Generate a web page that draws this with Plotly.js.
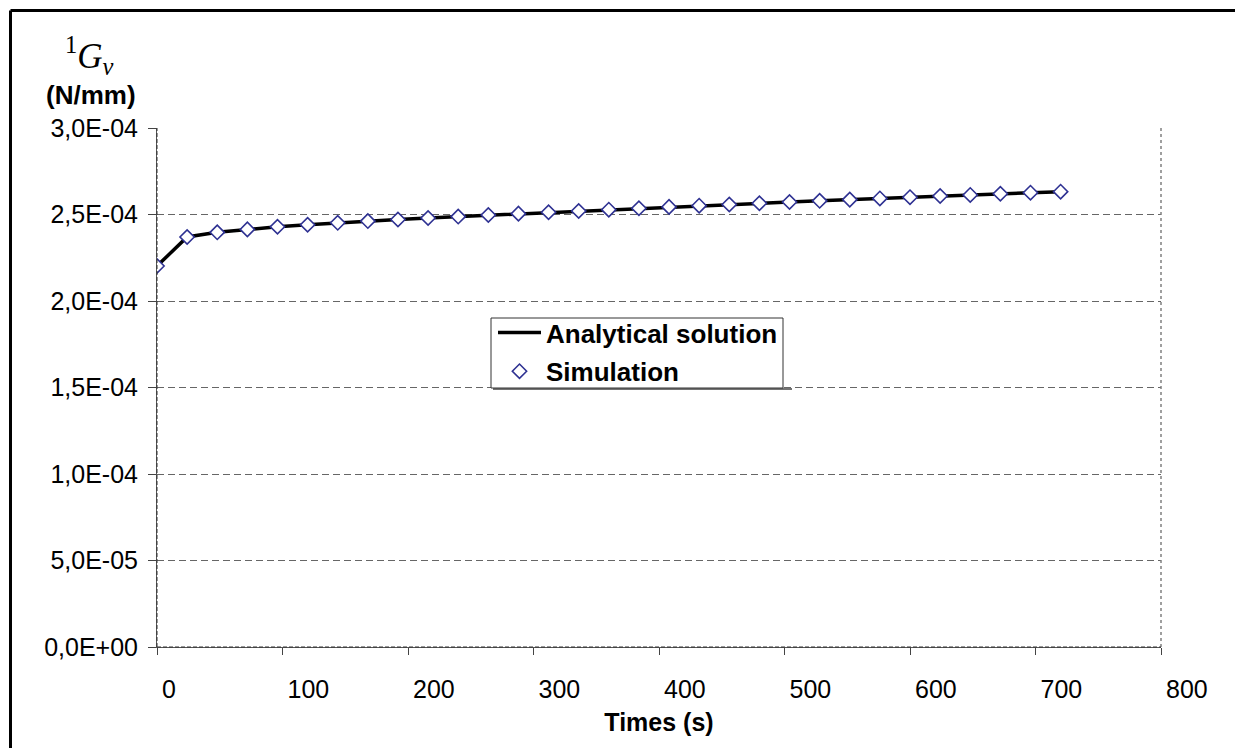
<!DOCTYPE html>
<html>
<head>
<meta charset="utf-8">
<script src="https://cdn.plot.ly/plotly-3.0.1.min.js"></script>
<style>
  html, body { margin: 0; padding: 0; background: #fff; }
  #chart { width: 1235px; height: 748px; }
</style>
</head>
<body>
<div id="chart"></div>
<script>
// ---- data ----
const times = [0, 24, 48, 72, 96, 120, 144, 168, 192, 216, 240, 264, 288, 312, 336, 360,
               384, 408, 432, 456, 480, 504, 528, 552, 576, 600, 624, 648, 672, 696, 720];
const analytical = [2.202e-4, 2.370e-4, 2.397e-4, 2.414e-4, 2.429e-4, 2.441e-4, 2.452e-4, 2.462e-4,
                    2.471e-4, 2.480e-4, 2.488e-4, 2.497e-4, 2.505e-4, 2.513e-4, 2.520e-4, 2.528e-4,
                    2.536e-4, 2.544e-4, 2.551e-4, 2.558e-4, 2.565e-4, 2.572e-4, 2.579e-4, 2.586e-4,
                    2.593e-4, 2.600e-4, 2.607e-4, 2.613e-4, 2.620e-4, 2.626e-4, 2.632e-4];
const simulation = [2.202e-4, 2.370e-4, 2.397e-4, 2.414e-4, 2.429e-4, 2.441e-4, 2.452e-4, 2.462e-4,
                    2.471e-4, 2.480e-4, 2.488e-4, 2.497e-4, 2.505e-4, 2.513e-4, 2.520e-4, 2.528e-4,
                    2.536e-4, 2.544e-4, 2.551e-4, 2.558e-4, 2.565e-4, 2.572e-4, 2.579e-4, 2.586e-4,
                    2.593e-4, 2.600e-4, 2.607e-4, 2.613e-4, 2.620e-4, 2.626e-4, 2.632e-4];
const yTickVals = [0, 5e-5, 1e-4, 1.5e-4, 2e-4, 2.5e-4, 3e-4];
const yTickText = ["0,0E+00", "5,0E-05", "1,0E-04", "1,5E-04", "2,0E-04", "2,5E-04", "3,0E-04"];
const xTickVals = [0, 100, 200, 300, 400, 500, 600, 700, 800];
const xTickText = ["0", "100", "200", "300", "400", "500", "600", "700", "800"];
const seriesNames = ["Analytical solution", "Simulation"];
const xTitle = "Times (s)";
const yTitleSymbol = "<sup>1</sup><i>G</i><sub><i>v</i></sub>";
const yTitleUnit = "(N/mm)";

const FONT = "Liberation Sans, Arial, sans-serif";

const traces = [
  {
    x: times, y: analytical, name: seriesNames[0], type: "scatter", mode: "lines",
    legendgroup: "a",
    line: { color: "#000000", width: 3.5 }
  },
  {
    x: times, y: simulation, name: seriesNames[1], type: "scatter", mode: "markers",
    legendgroup: "b",
    marker: { symbol: "diamond", size: 11, color: "#ffffff",
              line: { color: "#2E3192", width: 1.6 } }
  }
];

const W = 1004, H = 519, L = 157, T = 128;
const px = v => (v - L) / W;          // pixel x -> paper x
const py = v => (T + H - v) / H;      // pixel y -> paper y

const layout = {
  width: 1235, height: 748,
  margin: { l: 157, r: 74, t: 128, b: 101, pad: 0 },
  paper_bgcolor: "#ffffff", plot_bgcolor: "#ffffff",
  font: { family: FONT, size: 25, color: "#000000" },
  showlegend: true,
  legend: {
    x: px(493), y: py(309), xanchor: "left", yanchor: "top",
    bgcolor: "rgba(0,0,0,0)", borderwidth: 0,
    itemwidth: 43,
    font: { family: FONT, size: 26, weight: "bold", color: "#000000" },
    tracegroupgap: 2
  },
  xaxis: {
    range: [0, 800], tickvals: xTickVals, ticktext: xTickText,
    showgrid: false, zeroline: false,
    showline: true, linecolor: "#555555", linewidth: 1,
    ticks: "outside", ticklen: 7, tickcolor: "#444444", tickwidth: 1,
    ticklabelposition: "outside right", ticklabelshift: 4, ticklabelstandoff: 20,
    tickfont: { family: FONT, size: 25, color: "#000000" },
    title: { text: xTitle, font: { family: FONT, size: 25, weight: "bold" }, standoff: 11 },
    fixedrange: true
  },
  yaxis: {
    range: [0, 3e-4], tickvals: yTickVals, ticktext: yTickText,
    showgrid: true, gridcolor: "#666666", gridwidth: 1, griddash: "7px,4px",
    zeroline: false,
    showline: true, linecolor: "#555555", linewidth: 1,
    ticks: "outside", ticklen: 8, tickcolor: "#444444", tickwidth: 1,
    ticklabelstandoff: 5,
    tickfont: { family: FONT, size: 25, color: "#000000" },
    fixedrange: true
  },
  annotations: [
    { xref: "paper", yref: "paper", x: px(63), y: py(55), xanchor: "left", yanchor: "middle",
      text: yTitleSymbol, showarrow: false,
      font: { family: "Liberation Serif, Times New Roman, serif", size: 35, color: "#000" } },
    { xref: "paper", yref: "paper", x: px(91), y: py(95), xanchor: "center", yanchor: "middle",
      text: yTitleUnit, showarrow: false,
      font: { family: FONT, size: 26, weight: "bold", color: "#000" } }
  ],
  shapes: [
    // dotted right border of plot area
    { type: "line", xref: "paper", yref: "paper", x0: 1, x1: 1, y0: 0, y1: 1,
      line: { color: "#808080", width: 1.5, dash: "3px,3px" } },
    // dashed left axis overlay
    { type: "line", xref: "paper", yref: "paper", x0: 0, x1: 0, y0: 0, y1: 1,
      line: { color: "#333333", width: 1, dash: "4px,2px" } },
    // dashed bottom axis overlay
    { type: "line", xref: "paper", yref: "paper", x0: 0, x1: 1, y0: 0, y1: 0,
      line: { color: "#333333", width: 1, dash: "4px,2px" } },
    // legend box with a small shadow
    { type: "line", xref: "paper", yref: "paper", x0: px(493), x1: px(792), y0: py(389), y1: py(389),
      layer: "above", line: { color: "#444444", width: 1.5 } },
    { type: "rect", xref: "paper", yref: "paper", x0: px(491), x1: px(783), y0: py(318), y1: py(388),
      layer: "above", fillcolor: "#ffffff", line: { color: "#333333", width: 1 } },
    // outer chart frame (top and left)
    { type: "line", xref: "paper", yref: "paper", x0: px(10.5), x1: px(1236), y0: py(10.5), y1: py(10.5),
      line: { color: "#000000", width: 3 } },
    { type: "line", xref: "paper", yref: "paper", x0: px(10.5), x1: px(10.5), y0: py(10.5), y1: py(770),
      line: { color: "#000000", width: 3 } }
  ]
};

Plotly.newPlot("chart", traces, layout, { displayModeBar: false, staticPlot: true });
</script>
</body>
</html>
